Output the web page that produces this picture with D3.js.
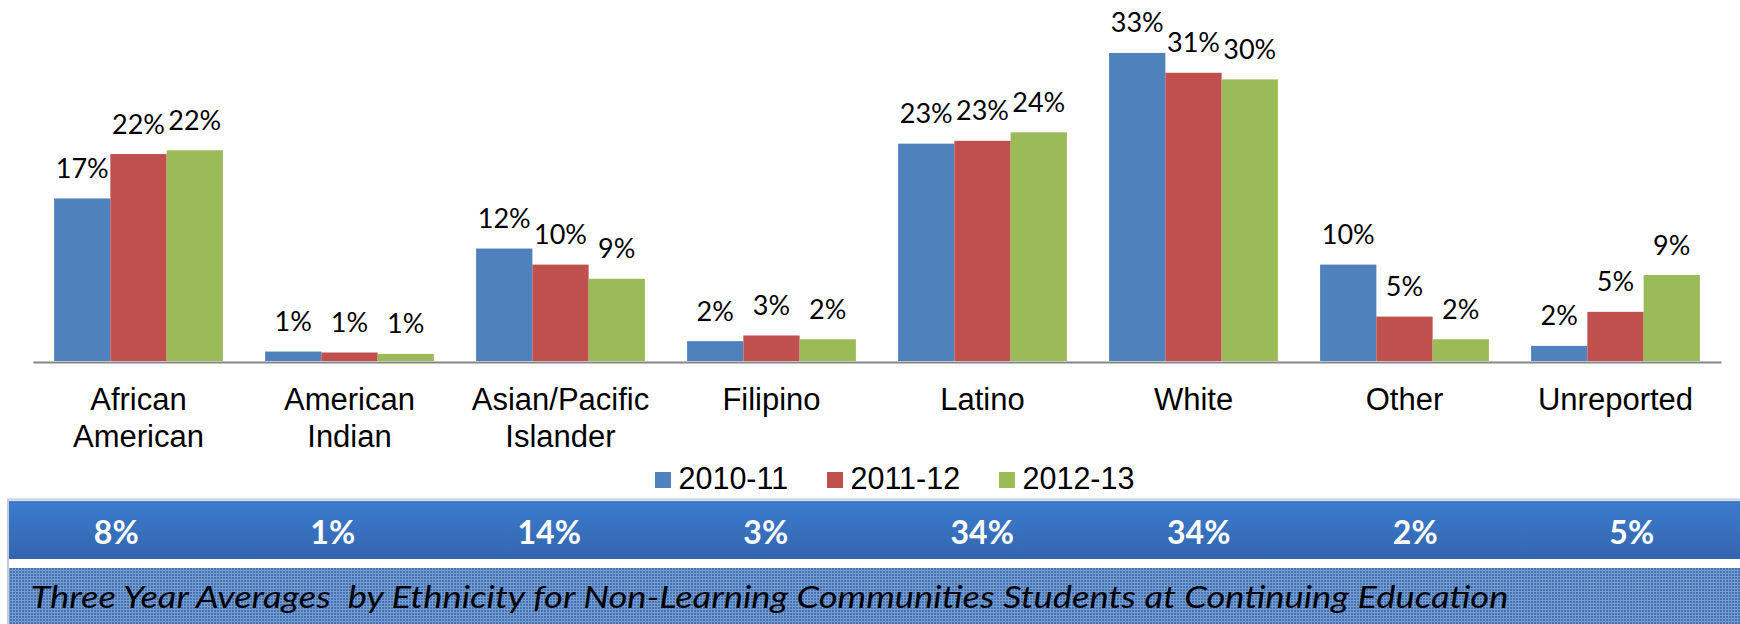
<!DOCTYPE html>
<html>
<head>
<meta charset="utf-8">
<script src="https://cdn.jsdelivr.net/npm/d3@7"></script>
<style>
  html, body { margin: 0; padding: 0; background: #fff; }
  svg { display: block; }
</style>
</head>
<body>
<svg id="chart" width="1740" height="624"></svg>
<script>
// ---- data ----
const categories = ["African American", "American Indian", "Asian/Pacific Islander", "Filipino", "Latino", "White", "Other", "Unreported"];
const categoryLines = [["African", "American"], ["American", "Indian"], ["Asian/Pacific", "Islander"], ["Filipino"], ["Latino"], ["White"], ["Other"], ["Unreported"]];
const seriesNames = ["2010-11", "2011-12", "2012-13"];
const values2010 = [17.2, 1.0, 11.9, 2.1, 23.0, 32.6, 10.2, 1.6];
const values2011 = [21.9, 0.9, 10.2, 2.7, 23.3, 30.5, 4.7, 5.2];
const values2012 = [22.3, 0.75, 8.7, 2.3, 24.2, 29.8, 2.3, 9.1];
const averages = ["8%", "1%", "14%", "3%", "34%", "34%", "2%", "5%"];
const footerTitle = "Three Year Averages  by Ethnicity for Non-Learning Communities Students at Continuing Education";
const colors = ["#4f81bd", "#c0504d", "#9bbb59"];

const seriesValues = [values2010, values2011, values2012];

const svg = d3.select("#chart");

// ---- defs ----
const defs = svg.append("defs");
const grad = defs.append("linearGradient").attr("id", "bandGrad")
  .attr("x1", 0).attr("y1", 0).attr("x2", 0).attr("y2", 1);
grad.append("stop").attr("offset", "0%").attr("stop-color", "#3b7ccf");
grad.append("stop").attr("offset", "100%").attr("stop-color", "#3465ad");

const pat = defs.append("pattern").attr("id", "texture")
  .attr("patternUnits", "userSpaceOnUse").attr("width", 3).attr("height", 3);
pat.append("rect").attr("width", 3).attr("height", 3).attr("fill", "#4473b4");
pat.append("rect").attr("x", 0).attr("y", 0).attr("width", 3).attr("height", 1).attr("fill", "#779cd0");
pat.append("rect").attr("x", 0).attr("y", 0).attr("width", 1).attr("height", 3).attr("fill", "#779cd0");

// ---- scales ----
const x0 = d3.scaleBand().domain(categories).range([33, 1721]).paddingInner(0.2).paddingOuter(0.1);
const x1 = d3.scaleBand().domain(seriesNames).range([0, x0.bandwidth()]);
const y = d3.scaleLinear().domain([0, 35]).range([361, 30.25]);

// ---- bars ----
const groups = svg.append("g").selectAll("g")
  .data(categories)
  .join("g")
  .attr("transform", d => `translate(${x0(d)},0)`);

groups.selectAll("rect")
  .data((d, i) => seriesNames.map((s, j) => ({ s, j, v: seriesValues[j][i] })))
  .join("rect")
  .attr("x", d => x1(d.s))
  .attr("width", x1.bandwidth())
  .attr("y", d => y(d.v))
  .attr("height", d => y(0) - y(d.v))
  .attr("fill", d => colors[d.j]);

groups.selectAll("text.val")
  .data((d, i) => seriesNames.map((s, j) => ({ s, j, v: seriesValues[j][i] })))
  .join("text")
  .attr("class", "val")
  .attr("x", d => x1(d.s) + x1.bandwidth() / 2)
  .attr("y", d => y(d.v) - 20.5)
  .attr("text-anchor", "middle")
  .attr("font-family", "Lato, 'Open Sans', sans-serif")
  .attr("font-size", 27)
  .attr("fill", "#000")
  .text(d => Math.round(d.v) + "%");

// ---- x axis ----
const xAxis = svg.append("g")
  .attr("transform", "translate(0,362)")
  .call(d3.axisBottom(x0).tickSize(0).tickFormat(""));
xAxis.select(".domain").attr("stroke", "#868686").attr("stroke-width", 2);

const catLabels = svg.append("g").selectAll("text")
  .data(categories)
  .join("text")
  .attr("x", d => x0(d) + x0.bandwidth() / 2)
  .attr("y", 410)
  .attr("text-anchor", "middle")
  .attr("font-family", "'Liberation Sans', Arial, sans-serif")
  .attr("font-size", 31)
  .attr("fill", "#000");
catLabels.each(function(d, i) {
  const t = d3.select(this);
  categoryLines[i].forEach((line, k) => {
    t.append("tspan")
      .attr("x", x0(d) + x0.bandwidth() / 2)
      .attr("y", 410 + k * 37.3)
      .text(line);
  });
});

// ---- legend ----
const legendX = [655, 827, 999];
const legend = svg.append("g").selectAll("g")
  .data(seriesNames)
  .join("g")
  .attr("transform", (d, i) => `translate(${legendX[i]},472)`);
legend.append("rect").attr("width", 16).attr("height", 16).attr("fill", (d, i) => colors[i]);
legend.append("text")
  .attr("x", 23.5).attr("y", 17.3)
  .attr("font-family", "'Liberation Sans', Arial, sans-serif")
  .attr("font-size", 30.5)
  .attr("fill", "#000")
  .text(d => d);

// ---- averages band ----
svg.append("line").attr("x1", 7).attr("x2", 1740).attr("y1", 499.5).attr("y2", 499.5)
  .attr("stroke", "#c6cdd8").attr("stroke-width", 2);
svg.append("line").attr("x1", 8).attr("x2", 8).attr("y1", 499).attr("y2", 624)
  .attr("stroke", "#c6cdd8").attr("stroke-width", 2);
svg.append("rect").attr("x", 9).attr("y", 501).attr("width", 1731).attr("height", 58)
  .attr("fill", "url(#bandGrad)");

const avgX = d3.scaleBand().domain(categories).range([8, 1740]);
svg.append("g").selectAll("text")
  .data(averages)
  .join("text")
  .attr("x", (d, i) => avgX(categories[i]) + avgX.bandwidth() / 2)
  .attr("y", 544.3)
  .attr("text-anchor", "middle")
  .attr("font-family", "Lato, 'Open Sans', sans-serif")
  .attr("font-weight", "bold")
  .attr("font-size", 32)
  .attr("fill", "#fff")
  .text(d => d);

// ---- footer title band ----
svg.append("rect").attr("x", 9).attr("y", 568).attr("width", 1731).attr("height", 56)
  .attr("fill", "url(#texture)");
svg.append("text")
  .attr("x", 30.5).attr("y", 608.3)
  .attr("font-family", "Lato, 'Open Sans', sans-serif")
  .attr("font-style", "italic")
  .attr("font-size", 30)
  .attr("textLength", 1478)
  .attr("lengthAdjust", "spacingAndGlyphs")
  .style("white-space", "pre")
  .attr("fill", "#000")
  .text(footerTitle);
</script>
</body>
</html>
